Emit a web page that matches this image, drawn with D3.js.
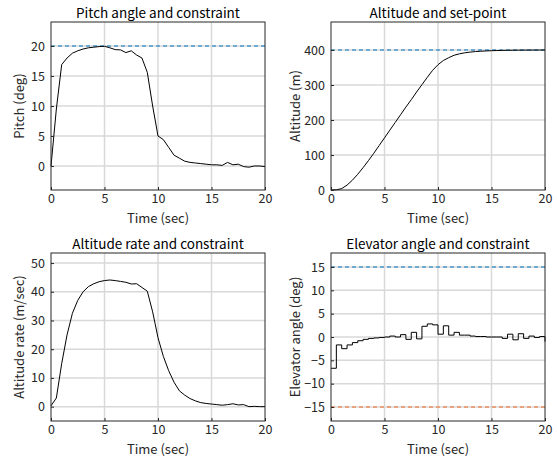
<!DOCTYPE html>
<html>
<head>
<meta charset="utf-8">
<script src="https://cdn.jsdelivr.net/npm/d3@7"></script>
<style>
  body { margin: 0; background: #fff; }
  svg { display: block; }
  text { font-family: "Noto Sans CJK JP", "Noto Sans", sans-serif; fill: #262626; }
</style>
</head>
<body>
<svg width="557" height="459"></svg>
<script>
// sample times (0.5 s steps)
const TIME = d3.range(0, 20.01, 0.5);

const PITCH = [0, 9.5, 16.9, 18.0, 18.8, 19.2, 19.5, 19.7, 19.8, 19.9, 19.95,
  19.7, 19.4, 19.35, 18.9, 19.2, 18.5, 18.0, 15.6, 10.0, 5.0,
  4.4, 3.1, 1.8, 1.3, 0.8, 0.6, 0.5, 0.4, 0.3, 0.2,
  0.2, 0.1, 0.6, 0.2, 0.3, -0.1, -0.2, 0.0, 0.0, -0.1];

const ALTITUDE = [0, 0.5, 4, 14, 28, 45, 64, 84, 105, 127, 149,
  171, 193, 215, 237, 258, 280, 301, 322, 342, 358,
  370, 378, 385, 389, 392, 394, 395.5, 396.5, 397.3, 398,
  398.4, 398.8, 399.1, 399.3, 399.5, 399.6, 399.7, 399.8, 399.9, 400];

const ALT_RATE = [0.3, 3, 15, 25, 32.5, 37, 40, 41.8, 42.8, 43.5, 43.9,
  44.1, 43.9, 43.6, 43.3, 42.7, 42.8, 41.5, 40.2, 33, 24,
  17.5, 12.5, 8.5, 5.5, 4, 2.8, 2.0, 1.4, 1.1, 0.9,
  0.7, 0.5, 0.7, 1.0, 0.6, 0.7, 0.0, 0.1, 0.0, 0.0];

const ELEVATOR = [-6.7, -1.7, -2.5, -1.7, -1.2, -0.8, -0.5, -0.3, -0.2, -0.1, 0.0,
  0.2, 0.0, 0.5, -0.5, 1.0, -0.4, 2.3, 2.8, 2.6, 0.6,
  2.4, 0.4, 1.0, 0.4, 0.4, 0.2, 0.1, 0.1, 0.0, 0.0,
  0.0, -0.3, 0.6, -0.6, 0.7, -0.3, 0.2, -0.1, 0.1, -1.0];

const X_TICKS = [0, 5, 10, 15, 20];

const PANELS = [
  { title: 'Pitch angle and constraint', ylabel: 'Pitch (deg)', values: PITCH,
    ydomain: [-4, 24], yticks: [0, 5, 10, 15, 20],
    limits: [{ v: 20, color: '#0072bd' }], step: false },
  { title: 'Altitude and set-point', ylabel: 'Altitude (m)', values: ALTITUDE,
    ydomain: [0, 480], yticks: [0, 100, 200, 300, 400],
    limits: [{ v: 400, color: '#0072bd' }], step: false },
  { title: 'Altitude rate and constraint', ylabel: 'Altitude rate (m/sec)', values: ALT_RATE,
    ydomain: [-5, 53.5], yticks: [0, 10, 20, 30, 40, 50],
    limits: [], step: false },
  { title: 'Elevator angle and constraint', ylabel: 'Elevator angle (deg)', values: ELEVATOR,
    ydomain: [-18, 18], yticks: [-15, -10, -5, 0, 5, 10, 15],
    limits: [{ v: 15, color: '#0072bd' }, { v: -15, color: '#e8a27e' }], step: true }
];

// plot box positions [left, top]
const BOXES = [[51, 22], [331, 22], [51, 253], [331, 253]];
const boxW = 214, boxH = 168;

let svg = d3.select('svg');

PANELS.forEach(function(p, i) {
  let [left, top] = BOXES[i];
  let g = svg.append('g').attr('transform', 'translate(' + left + ',' + top + ')');

  let x = d3.scaleLinear().domain([0, 20]).range([0, boxW]);
  let y = d3.scaleLinear().domain(p.ydomain).range([boxH, 0]);

  // grid
  g.append('g').selectAll('line').data(X_TICKS.slice(1, -1)).enter().append('line')
    .attr('x1', (d) => x(d)).attr('x2', (d) => x(d))
    .attr('y1', 0).attr('y2', boxH)
    .attr('stroke', '#d8d8d8').attr('stroke-width', 1.5);
  g.append('g').selectAll('line').data(p.yticks.filter((d) => y(d) > 0.5 && y(d) < boxH - 0.5)).enter().append('line')
    .attr('x1', 0).attr('x2', boxW)
    .attr('y1', (d) => y(d)).attr('y2', (d) => y(d))
    .attr('stroke', '#d8d8d8').attr('stroke-width', 1.5);

  // constraint lines
  p.limits.forEach(function(l) {
    g.append('line')
      .attr('x1', 0).attr('x2', boxW)
      .attr('y1', y(l.v)).attr('y2', y(l.v))
      .attr('stroke', l.color).attr('stroke-width', l.v < 0 ? 2 : 1)
      .attr('stroke-dasharray', '4,3');
  });

  // data line
  let line = d3.line()
    .x((d, j) => x(TIME[j]))
    .y((d) => y(d))
    .curve(p.step ? d3.curveStepAfter : d3.curveLinear);
  g.append('path')
    .datum(p.values)
    .attr('fill', 'none')
    .attr('stroke', '#000')
    .attr('stroke-width', 1)
    .attr('d', line);

  // axes (ticks inward, box)
  g.append('g').attr('transform', 'translate(0,' + boxH + ')')
    .call(d3.axisBottom(x).tickValues(X_TICKS).tickSizeInner(-3).tickSizeOuter(0).tickPadding(4))
    .call((s) => s.select('.domain').remove());
  g.append('g')
    .call(d3.axisLeft(y).tickValues(p.yticks).tickSizeInner(-3).tickSizeOuter(0).tickPadding(6))
    .call((s) => s.select('.domain').remove());
  g.selectAll('.tick text').attr('font-size', 12.5).attr('font-family', null).style('fill', '#262626');
  g.selectAll('.tick line').attr('stroke', '#262626');

  g.append('rect')
    .attr('x', 0).attr('y', 0).attr('width', boxW).attr('height', boxH)
    .attr('fill', 'none').attr('stroke', '#262626').attr('stroke-width', 1);

  // labels
  g.append('text')
    .attr('x', boxW / 2).attr('y', -4)
    .attr('text-anchor', 'middle')
    .attr('font-size', 13.5)
    .style('fill', '#000')
    .text(p.title);
  g.append('text')
    .attr('x', boxW / 2).attr('y', boxH + 33)
    .attr('text-anchor', 'middle')
    .attr('font-size', 13)
    .text('Time (sec)');
  g.append('text')
    .attr('transform', 'translate(' + (i % 2 ? -31 : -27) + ',' + (boxH / 2) + ') rotate(-90)')
    .attr('text-anchor', 'middle')
    .attr('font-size', 13)
    .text(p.ylabel);
});
</script>
</body>
</html>
